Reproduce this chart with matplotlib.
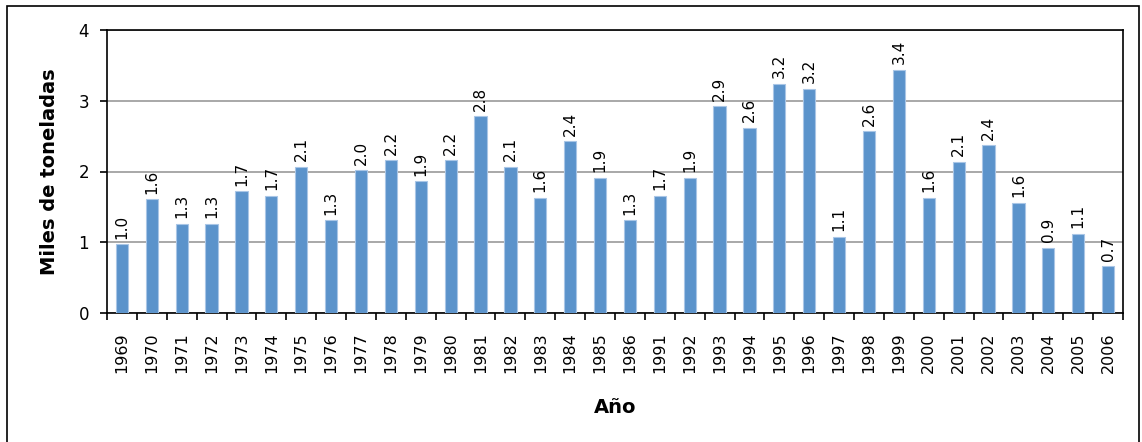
import matplotlib.pyplot as plt
from matplotlib.patches import Rectangle

# datos: producción anual (miles de toneladas)
anios = ["1969", "1970", "1971", "1972", "1973", "1974", "1975", "1976", "1977",
         "1978", "1979", "1980", "1981", "1982", "1983", "1984", "1985", "1986",
         "1991", "1992", "1993", "1994", "1995", "1996", "1997", "1998", "1999",
         "2000", "2001", "2002", "2003", "2004", "2005", "2006"]
valores = [0.97, 1.61, 1.26, 1.26, 1.72, 1.66, 2.07, 1.31, 2.02,
           2.16, 1.86, 2.16, 2.78, 2.07, 1.63, 2.43, 1.91, 1.31,
           1.66, 1.91, 2.92, 2.62, 3.24, 3.17, 1.08, 2.57, 3.44,
           1.63, 2.14, 2.37, 1.56, 0.92, 1.12, 0.66]
yticks = [0, 1, 2, 3, 4]

fig = plt.figure(figsize=(11.42, 4.42), dpi=100)
ax = fig.add_axes([107 / 1142, 1 - 313 / 442, (1123 - 107) / 1142, (313 - 30) / 442])

# marco exterior del gráfico
fig.patches.append(Rectangle((7 / 1142, -0.05), (1139 - 7) / 1142, 1.05 - 6 / 442,
                             transform=fig.transFigure, fill=False,
                             edgecolor="black", linewidth=1.2))

x = list(range(len(anios)))
barras = ax.bar(x, valores, width=0.41, color="#5B93CB", edgecolor="#A9C6E6",
                linewidth=0.8, zorder=3)

for xi, v in zip(x, valores):
    ax.annotate(f"{v:.1f}", (xi, v), xytext=(0, 4), textcoords="offset points",
                rotation=90, ha="center", va="bottom", fontsize=11)

ax.set_xlim(-0.5, len(anios) - 0.5)
ax.set_ylim(0, 4)
ax.set_yticks(yticks)
ax.set_yticklabels([str(t) for t in yticks], fontsize=12)
ax.yaxis.grid(True, color="#999999", linewidth=1.2, zorder=0)
ax.tick_params(axis="y", length=5, width=1.2, pad=8)

ax.set_xticks(x)
ax.set_xticklabels(anios, rotation=90, fontsize=11.5)
ax.tick_params(axis="x", which="major", length=0, pad=14)
ax.set_xticks([i - 0.5 for i in range(len(anios) + 1)], minor=True)
ax.tick_params(axis="x", which="minor", length=5, width=1.2)

for s in ax.spines.values():
    s.set_linewidth(1.2)
    s.set_color("black")

ax.set_ylabel("Miles de toneladas", fontsize=14, fontweight="bold", labelpad=14)
ax.set_xlabel("Año", fontsize=14, fontweight="bold", labelpad=18)

fig.savefig("out.png", dpi=100)
